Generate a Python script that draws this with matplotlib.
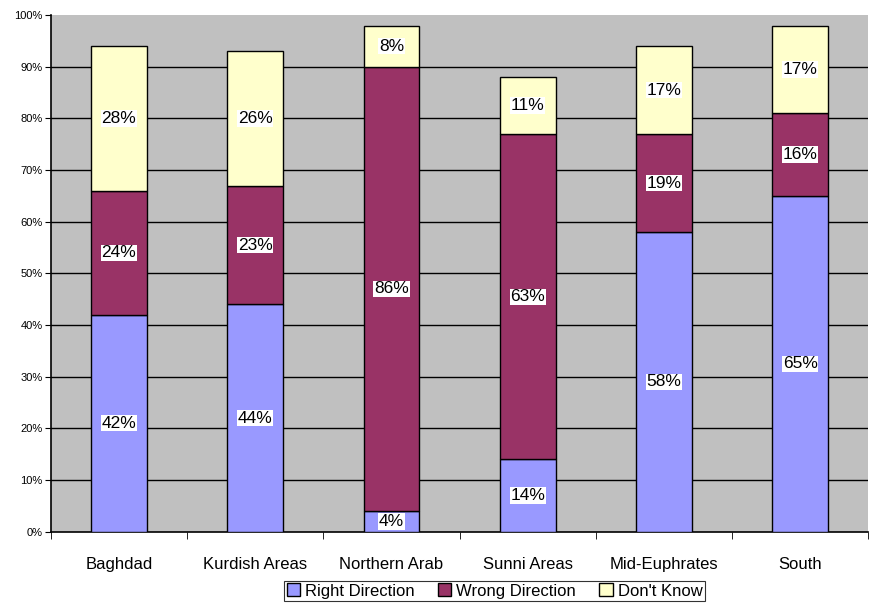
import matplotlib
matplotlib.use("Agg")
import matplotlib.pyplot as plt
import numpy as np

plt.rcParams["font.family"] = ["Liberation Sans", "DejaVu Sans"]

regions = ["Baghdad", "Kurdish Areas", "Northern Arab", "Sunni Areas", "Mid-Euphrates", "South"]
right_direction = [42, 44, 4, 14, 58, 65]
wrong_direction = [24, 23, 86, 63, 19, 16]
dont_know = [28, 26, 8, 11, 17, 17]
series_names = ["Right Direction", "Wrong Direction", "Don't Know"]
colors = ["#9999FF", "#993366", "#FFFFCC"]

fig = plt.figure(figsize=(8.77, 6.07), dpi=100)
ax = fig.add_axes([0.058, 0.124, 0.932, 0.851])
ax.set_facecolor("#C0C0C0")

x = np.arange(len(regions))
bottom = np.zeros(len(regions))
handles = []
for vals, name, col in zip([right_direction, wrong_direction, dont_know], series_names, colors):
    v = np.array(vals) / 100.0
    bars = ax.bar(x, v, width=0.41, bottom=bottom, color=col, edgecolor="black", linewidth=1.0,
                  label=name, zorder=3)
    handles.append(bars)
    for xi, b, h, raw in zip(x, bottom, v, vals):
        ax.text(xi, b + h / 2, f"{raw}%", ha="center", va="center", fontsize=12.5, zorder=5,
                bbox=dict(facecolor="white", edgecolor="none", pad=0.5))
    bottom += v

ax.set_xlim(-0.5, len(regions) - 0.5)
ax.set_ylim(0, 1.0)
yt = np.arange(0, 1.01, 0.1)
ax.set_yticks(yt)
ax.set_yticklabels([f"{int(round(t * 100))}%" for t in yt], fontsize=8)
for t in yt[1:-1]:
    ax.axhline(t, color="black", linewidth=1.0, zorder=1)

ax.set_xticks(x)
ax.set_xticklabels(regions, fontsize=12)
ax.tick_params(axis="x", length=0, pad=18)
ax.set_xticks(np.arange(-0.5, len(regions) - 0.4, 1.0), minor=True)
ax.tick_params(axis="x", which="minor", length=5, direction="out", color="black")
ax.tick_params(axis="y", length=4, direction="out", pad=2)

for s in ["top", "right"]:
    ax.spines[s].set_visible(False)
ax.spines["left"].set_linewidth(1.2)
ax.spines["bottom"].set_linewidth(1.2)

leg = fig.legend(handles=handles, labels=series_names, loc="upper center",
                 bbox_to_anchor=(0.564, 0.043), ncol=3, fontsize=12, frameon=True,
                 fancybox=False, edgecolor="black", handlelength=0.8, handleheight=0.8,
                 handletextpad=0.3, columnspacing=1.4, borderpad=0.15, borderaxespad=0)
leg.get_frame().set_linewidth(0.8)

fig.savefig("out.png", dpi=100)
